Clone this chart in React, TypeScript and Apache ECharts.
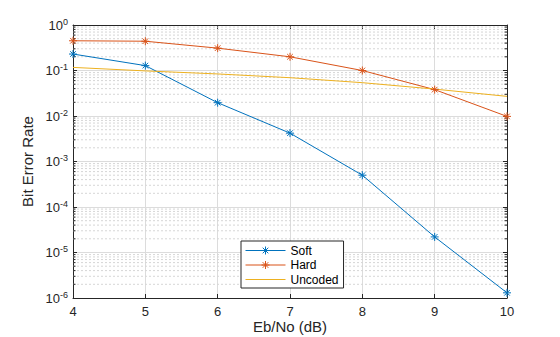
import React, { useEffect, useRef } from "react";
import * as echarts from "echarts";

const xValues = [4, 5, 6, 7, 8, 9, 10];
const softBER = [0.23, 0.128, 0.0196, 0.0042, 0.0005, 0.000022, 0.0000013];
const hardBER = [0.45, 0.44, 0.31, 0.2, 0.1, 0.038, 0.0098];
const uncodedBER = [0.117, 0.098, 0.084, 0.0695, 0.054, 0.039, 0.027];
const yDecades = [-6, -5, -4, -3, -2, -1];
const minorMultipliers = [2, 3, 4, 5, 6, 7, 8, 9];

const FONT = "Liberation Sans, Arial, Helvetica, sans-serif";
const AXIS_COLOR = "#262626";
const ASTERISK =
  "path://M5,0L5,10M0,5L10,5M1.5,1.5L8.5,8.5M1.5,8.5L8.5,1.5";
const LEGEND_MARKED =
  "path://M0,5L40,5M20,1L20,9M16,5L24,5M17.2,2.2L22.8,7.8M17.2,7.8L22.8,2.2";
const LEGEND_PLAIN = "path://M0,1L0,1M0,5L40,5M40,9L40,9";

export default function App() {
  const ref = useRef<HTMLDivElement>(null);
  useEffect(() => {
    if (!ref.current) return;
    const chart = echarts.init(ref.current, undefined, { renderer: "svg" });
    const minors: number[][] = [];
    yDecades.forEach((d) =>
      minorMultipliers.forEach((m) => minors.push([xValues[0], m * Math.pow(10, d)]))
    );
    const mkLine = (name: string, data: number[], color: string, marker: boolean) => ({
      name,
      type: "line",
      color,
      data: xValues.map((x, i) => [x, data[i]]),
      symbol: marker ? ASTERISK : "none",
      symbolSize: 8,
      showSymbol: marker,
      lineStyle: { color, width: 1 },
      itemStyle: { color, borderColor: color, borderWidth: 1 },
      z: 5,
    });
    chart.setOption({
      animation: false,
      grid: { left: 73, top: 25, right: 53, bottom: 39, containLabel: false, outerBoundsMode: "none" },
      legend: {
        data: [
          { name: "Soft", icon: LEGEND_MARKED },
          { name: "Hard", icon: LEGEND_MARKED },
          { name: "Uncoded", icon: LEGEND_PLAIN },
        ],
        orient: "vertical",
        left: 241,
        top: 241,
        padding: [3, 5, 2, 2],
        itemWidth: 40,
        itemHeight: 8,
        itemGap: 1.5,
        backgroundColor: "#fff",
        borderColor: "#262626",
        borderWidth: 1,
        borderRadius: 0,
        itemStyle: { borderWidth: 1, borderColor: "inherit", color: "none" },
        textStyle: { fontFamily: FONT, fontSize: 12, color: "#000", lineHeight: 13 },
      },
      xAxis: [
        {
          type: "value",
          min: 4,
          max: 10,
          interval: 1,
          name: "Eb/No (dB)",
          nameLocation: "middle",
          nameGap: 21,
          nameMoveOverlap: false,
          nameTextStyle: { fontFamily: FONT, fontSize: 15, lineHeight: 15, color: AXIS_COLOR },
          axisLine: { lineStyle: { color: AXIS_COLOR } },
          axisTick: { inside: true, length: 4, lineStyle: { color: AXIS_COLOR } },
          axisLabel: { fontFamily: FONT, fontSize: 13, color: AXIS_COLOR, margin: 7 },
          splitLine: { show: true, lineStyle: { color: "#dcdcdc" } },
        },
        {
          type: "value",
          min: 4,
          max: 10,
          interval: 1,
          position: "top",
          axisLine: { show: true, lineStyle: { color: AXIS_COLOR } },
          axisTick: { show: true, inside: true, length: 4, lineStyle: { color: AXIS_COLOR } },
          axisLabel: { show: false },
          splitLine: { show: false },
        },
      ],
      yAxis: [
        {
          type: "log",
          logBase: 10,
          min: 1e-6,
          max: 1,
          name: "Bit Error Rate",
          nameLocation: "middle",
          nameGap: 33,
          nameTextStyle: { fontFamily: FONT, fontSize: 15, color: AXIS_COLOR },
          axisLine: { show: true, lineStyle: { color: AXIS_COLOR } },
          axisTick: { show: true, inside: true, length: 4, lineStyle: { color: AXIS_COLOR } },
          axisLabel: {
            fontFamily: FONT,
            margin: 5,
            formatter: (v: number) => `{b|10}{s|${Math.round(Math.log10(v))}}`,
            rich: {
              b: { fontFamily: FONT, fontSize: 13, color: AXIS_COLOR },
              s: { fontFamily: FONT, fontSize: 9, color: AXIS_COLOR, verticalAlign: "top", padding: [0, 0, 7, 0] },
            },
          },
          splitLine: { show: true, lineStyle: { color: "#dcdcdc" } },
        },
        {
          type: "log",
          logBase: 10,
          min: 1e-6,
          max: 1,
          position: "right",
          axisLine: { show: true, lineStyle: { color: AXIS_COLOR } },
          axisTick: { show: true, inside: true, length: 4, lineStyle: { color: AXIS_COLOR } },
          axisLabel: { show: false },
          splitLine: { show: false },
        },
      ],
      series: [
        {
          name: "minorGrid",
          type: "custom",
          silent: true,
          z: 1,
          data: minors,
          encode: { x: 0, y: 1 },
          renderItem: (params: any, api: any) => {
            const v = api.value(1);
            const p1 = api.coord([4, v]);
            const p2 = api.coord([10, v]);
            return {
              type: "group",
              children: [
                {
                  type: "line",
                  shape: { x1: p1[0], y1: p1[1], x2: p2[0], y2: p2[1] },
                  style: { stroke: "#d6d6d6", lineWidth: 1, lineDash: [2, 2] },
                },
                {
                  type: "line",
                  shape: { x1: p1[0], y1: p1[1], x2: p1[0] + 2.5, y2: p1[1] },
                  style: { stroke: AXIS_COLOR, lineWidth: 1 },
                },
                {
                  type: "line",
                  shape: { x1: p2[0] - 2.5, y1: p2[1], x2: p2[0], y2: p2[1] },
                  style: { stroke: AXIS_COLOR, lineWidth: 1 },
                },
              ],
            };
          },
        },
        mkLine("Soft", softBER, "#0072BD", true),
        mkLine("Hard", hardBER, "#D95319", true),
        mkLine("Uncoded", uncodedBER, "#EDB120", false),
      ],
    });
    return () => chart.dispose();
  }, []);
  return <div ref={ref} style={{ width: 560, height: 337, position: "absolute", left: 0, top: 0 }} />;
}
